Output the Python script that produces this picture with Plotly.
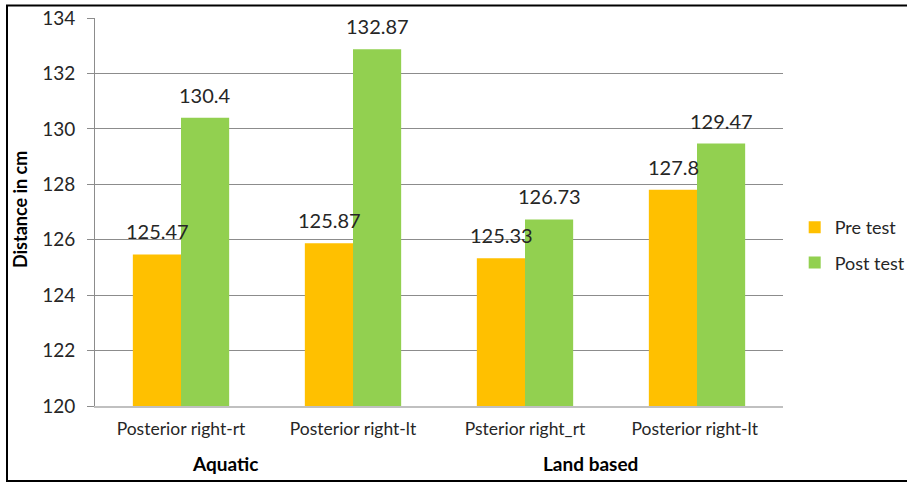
import plotly.graph_objects as go

categories = ["Posterior right-rt", "Posterior right-lt", "Psterior right_rt", "Posterior right-lt "]
pre_test = [125.47, 125.87, 125.33, 127.8]
post_test = [130.4, 132.87, 126.73, 129.47]
pre_labels = ["125.47", "125.87", "125.33", "127.8"]
post_labels = ["130.4", "132.87", "126.73", "129.47"]
groups = ["Aquatic", "Land based"]
y_ticks = [120, 122, 124, 126, 128, 130, 132, 134]

FONT = "Lato, Carlito, Calibri, sans-serif"
TXT = "#262626"

fig = go.Figure()
fig.add_trace(go.Bar(name="Pre test", x=categories, y=[v - 120 for v in pre_test], base=120,
                     legendgroup="pre",
                     marker=dict(color="#FFC000", line=dict(width=0)), hoverinfo="skip"))
fig.add_trace(go.Bar(name="Post test", x=categories, y=[v - 120 for v in post_test], base=120,
                     legendgroup="post",
                     marker=dict(color="#92D050", line=dict(width=0)), hoverinfo="skip"))

annotations = []
for c, v, t in zip(categories, pre_test, pre_labels):
    annotations.append(dict(x=c, y=v, text=t, xref="x", yref="y", showarrow=False,
                            xshift=-24, yanchor="bottom", yshift=9,
                            font=dict(family=FONT, size=20, color=TXT)))
for c, v, t in zip(categories, post_test, post_labels):
    annotations.append(dict(x=c, y=v, text=t, xref="x", yref="y", showarrow=False,
                            xshift=24, yanchor="bottom", yshift=9,
                            font=dict(family=FONT, size=20, color=TXT)))

for g, xp in zip(groups, [0.189, 0.7195]):
    annotations.append(dict(x=xp, y=-0.147, xref="paper", yref="paper", text="<b>%s</b>" % g,
                            showarrow=False, xanchor="center", yanchor="middle",
                            font=dict(family=FONT, size=19, color="#000000")))

annotations.append(dict(x=-0.109, y=0.505, xref="paper", yref="paper", text="<b>Distance in cm</b>",
                        textangle=-90, showarrow=False, xanchor="center", yanchor="middle",
                        font=dict(family=FONT, size=18, color="#000000")))

W, H = 907, 482
ml, mr, mt, mb = 95, 124, 18, 76
pw, ph = W - ml - mr, H - mt - mb

def px(x):
    return (x - ml) / pw

def py(y):
    return (H - mb - y) / ph

fig.update_layout(
    width=W, height=H,
    margin=dict(l=ml, r=mr, t=mt, b=mb, autoexpand=False),
    paper_bgcolor="white", plot_bgcolor="white",
    barmode="group", bargap=0.44, bargroupgap=0,
    font=dict(family=FONT, color=TXT),
    showlegend=True,
    legend=dict(x=1.017, y=0.415, xanchor="left", yanchor="middle",
                font=dict(family=FONT, size=18, color=TXT),
                itemwidth=30, tracegroupgap=9, bgcolor="rgba(0,0,0,0)"),
    annotations=annotations,
    shapes=[dict(type="rect", xref="paper", yref="paper",
                 x0=px(7), x1=px(912), y0=py(481), y1=py(5.5),
                 line=dict(color="black", width=2), layer="above")],
    xaxis=dict(type="category", showgrid=False, showline=True, linecolor="#c0c0c0", linewidth=2,
               ticks="", tickfont=dict(family=FONT, size=17.5, color=TXT), ticklabelstandoff=6,
               fixedrange=True),
    yaxis=dict(range=[120, 134], tickvals=y_ticks, showgrid=True, gridcolor="#8c8c8c", gridwidth=1,
               showline=True, linecolor="#8c8c8c", linewidth=1, ticks="outside", ticklen=7,
               tickcolor="#8c8c8c", tickfont=dict(family=FONT, size=19, color=TXT),
               ticklabelstandoff=8, zeroline=False, fixedrange=True),
)

fig.write_html("out.html", config={"displayModeBar": False},
               post_script="document.body.style.margin='0';document.body.style.overflow='hidden';")
